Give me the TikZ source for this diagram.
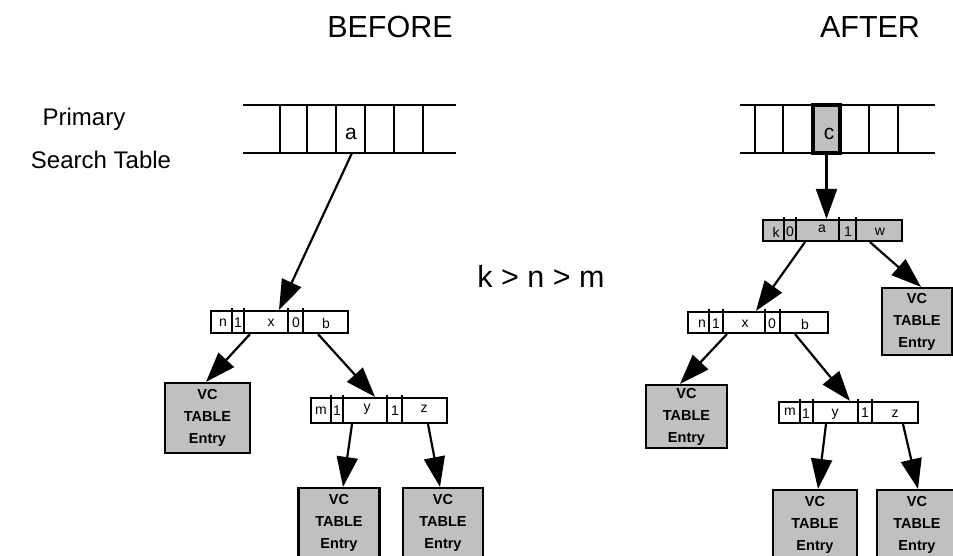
\documentclass[tikz,border=0pt]{standalone}
\usepackage{fontspec}
\setmainfont{Liberation Sans}
\usetikzlibrary{arrows.meta}
\definecolor{boxgray}{RGB}{192,192,192}

\begin{document}
\begin{tikzpicture}[x=1pt,y=-1pt,
    tab/.style={line width=2.2pt},
    rec/.style={draw,line width=2.2pt,inner sep=0pt},
    fld/.style={inner sep=0pt,font=\fontsize{14}{14}\selectfont},
    vcbox/.style={draw,line width=2.2pt,fill=boxgray,inner sep=0pt,align=center,
        minimum width=82,minimum height=70,font=\fontsize{14.5}{22}\selectfont\bfseries},
    big/.style={inner sep=0pt,font=\fontsize{24}{24}\selectfont},
    huge/.style={inner sep=0pt,font=\fontsize{30.5}{30.5}\selectfont},
    link/.style={line width=2.2pt,-{Triangle[length=30pt,width=21pt]}}]
    \useasboundingbox (0,0) rectangle (953,555);
    % titles
    \node[huge,anchor=base] (before) at (390,37) {BEFORE};
    \node[huge,anchor=base] (after) at (870,37) {AFTER};
    \node[big] (primary) at (84,119) {Primary};
    \node[big] (search) at (101,160) {Search Table};
    \node[huge,anchor=base] (order) at (541,287) {k > n > m};

    % before: search table
    \draw[tab] (243,105) -- (456,105);
    \draw[tab] (243,153) -- (456,153);
    \draw[tab] (280,105) -- (280,153);
    \draw[tab] (307,105) -- (307,153);
    \draw[tab] (336,105) -- (336,153);
    \draw[tab] (365,105) -- (365,153);
    \draw[tab] (394,105) -- (394,153);
    \draw[tab] (423,105) -- (423,153);
    \node[inner sep=0pt,anchor=base,font=\fontsize{21}{21}\selectfont] (slotB) at (351,139) {a};
    \coordinate (slotBout) at (352,153);

    % before: records
    \node[rec,minimum width=137,minimum height=22] (recBn) at (279.5,322) {};
    \draw[tab] (232,308) -- (232,333);
    \draw[tab] (244,308) -- (244,333);
    \draw[tab] (288,308) -- (288,333);
    \draw[tab] (303,308) -- (303,333);
    \node[fld] (bn1) at (223,323) {n};
    \node[fld] (bn2) at (238,323) {1};
    \node[fld] (bn3) at (271,323) {x};
    \node[fld] (bn4) at (296,323) {0};
    \node[fld] (bn5) at (326,323) {b};

    \node[rec,minimum width=136,minimum height=25] (recBm) at (379,410.5) {};
    \draw[tab] (331,395) -- (331,423);
    \draw[tab] (343,395) -- (343,423);
    \draw[tab] (387,395) -- (387,423);
    \draw[tab] (402,395) -- (402,423);
    \node[fld] (bm1) at (321,411) {m};
    \node[fld] (bm2) at (337,411) {1};
    \node[fld] (bm3) at (367,409) {y};
    \node[fld] (bm4) at (395,411) {1};
    \node[fld] (bm5) at (424,409) {z};

    \node[vcbox,minimum width=85] (vcB1) at (207.5,418) {VC\\TABLE\\Entry};
    \node[vcbox,minimum width=81] (vcB2) at (339,523) {VC\\TABLE\\Entry};
    \node[vcbox,minimum width=80] (vcB3) at (443,523) {VC\\TABLE\\Entry};

    \draw[link] (slotBout) -- (recBn.north -| 279,0);
    \draw[link] (recBn.south -| 250,0) -- (vcB1.north -| 206,0);
    \draw[link] (recBn.south -| 318,0) -- (recBm.north -| 375,0);
    \draw[link] (recBm.south -| 352,0) -- (vcB2.north -| 343,0);
    \draw[link] (recBm.south -| 428,0) -- (vcB3.north -| 440,0);

    % after: search table
    \draw[tab] (740,105) -- (935,105);
    \draw[tab] (740,153) -- (935,153);
    \draw[tab] (755,105) -- (755,153);
    \draw[tab] (783,105) -- (783,153);
    \draw[tab] (869,105) -- (869,153);
    \draw[tab] (898,105) -- (898,153);
    \node[draw,line width=3.2pt,fill=boxgray,inner sep=0pt,minimum width=27,minimum height=48] (slotA) at (826.5,129) {};
    \node[inner sep=0pt,anchor=base,font=\fontsize{21}{21}\selectfont] (slotAc) at (829,139) {c};

    % after: records
    \node[rec,fill=boxgray,minimum width=139,minimum height=21] (recAk) at (832.5,230.5) {};
    \draw[tab] (784,217) -- (784,241);
    \draw[tab] (796,217) -- (796,241);
    \draw[tab] (839,217) -- (839,241);
    \draw[tab] (856,217) -- (856,241);
    \node[fld] (ak1) at (776,232) {k};
    \node[fld] (ak2) at (790,232) {0};
    \node[fld] (ak3) at (822,229) {a};
    \node[fld] (ak4) at (848,232) {1};
    \node[fld] (ak5) at (880,232) {w};

    \node[rec,minimum width=140,minimum height=21] (recAn) at (758,322.5) {};
    \draw[tab] (709,309) -- (709,333);
    \draw[tab] (723,309) -- (723,333);
    \draw[tab] (765,309) -- (765,333);
    \draw[tab] (780,309) -- (780,333);
    \node[fld] (an1) at (702,324) {n};
    \node[fld] (an2) at (716,324) {1};
    \node[fld] (an3) at (745,324) {x};
    \node[fld] (an4) at (772,324) {0};
    \node[fld] (an5) at (805,324) {b};

    \node[rec,minimum width=139,minimum height=21] (recAm) at (848.5,412.5) {};
    \draw[tab] (800,399) -- (800,423);
    \draw[tab] (813,399) -- (813,423);
    \draw[tab] (858,399) -- (858,423);
    \draw[tab] (872,399) -- (872,423);
    \node[fld] (am1) at (790,412) {m};
    \node[fld] (am2) at (806,414) {1};
    \node[fld] (am3) at (835,414) {y};
    \node[fld] (am4) at (865,413) {1};
    \node[fld] (am5) at (895,414) {z};

    \node[vcbox,minimum width=70,minimum height=67] (vcA1) at (917,321.5) {VC\\TABLE\\Entry};
    \node[vcbox,minimum width=81,minimum height=63] (vcA2) at (686.5,416.5) {VC\\TABLE\\Entry};
    \node[vcbox,minimum width=84] (vcA3) at (815,525) {VC\\TABLE\\Entry};
    \node[vcbox,minimum width=80] (vcA4) at (917,525) {VC\\TABLE\\Entry};

    \draw[link] (slotA.south) -- (recAk.north -| slotA.south);
    \draw[link] (recAk.south -| 805,0) -- (recAn.north -| 756,0);
    \draw[link] (recAk.south -| 870,0) -- (vcA1.north -| 921,0);
    \draw[link] (recAn.south -| 727,0) -- (vcA2.north -| 680,0);
    \draw[link] (recAn.south -| 795,0) -- (recAm.north -| 850,0);
    \draw[link] (recAm.south -| 826,0) -- (vcA3.north -| 818,0);
    \draw[link] (recAm.south -| 903,0) -- (vcA4.north -| 918,0);
\end{tikzpicture}
\end{document}
